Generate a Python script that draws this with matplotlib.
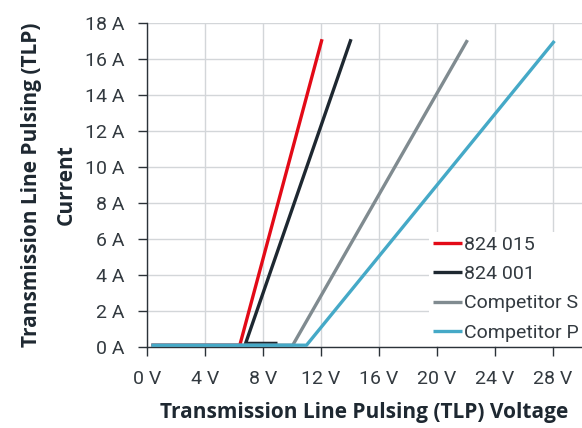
import matplotlib
matplotlib.use("Agg")
import matplotlib.pyplot as plt

# Data (voltage in V, current in A)
red_v = [0.3, 6.4, 12.07]
red_i = [0.1, 0.1, 17.1]
black_v = [9.0, 6.8, 14.07]
black_i = [0.2, 0.2, 17.1]
gray_v = [0.3, 10.05, 22.1]
gray_i = [0.1, 0.1, 17.05]
blue_v = [0.3, 11.0, 28.1]
blue_i = [0.1, 0.1, 17.0]

labels = ["824 015", "824 001", "Competitor S", "Competitor P"]
colors = ["#e30a17", "#1e2831", "#808b90", "#45a9c7"]

x_ticks = [0, 4, 8, 12, 16, 20, 24, 28]
y_ticks = [0, 2, 4, 6, 8, 10, 12, 14, 16, 18]

plt.rcParams['font.family'] = ['Roboto', 'DejaVu Sans']

fig = plt.figure(figsize=(5.82, 4.28), dpi=100)
ax = fig.add_axes([147/582, 81/428, 435/582, 324/428])

series = [(red_v, red_i), (black_v, black_i), (gray_v, gray_i), (blue_v, blue_i)]
for (v, i), lab, c in zip(series, labels, colors):
    ax.plot(v, i, color=c, lw=2.4, label=lab, solid_capstyle='butt', zorder=3)

ax.set_xlim(0, 30)
ax.set_ylim(0, 18)
ax.set_xticks(x_ticks)
ax.set_xticklabels([f"{t} V" for t in x_ticks])
ax.set_yticks(y_ticks)
ax.set_yticklabels([f"{t} A" for t in y_ticks])

ax.grid(True, color="#d3d6d9", lw=1.0, zorder=0)
ax.set_axisbelow(True)
for s in ["top", "right"]:
    ax.spines[s].set_visible(False)
for s in ["left", "bottom"]:
    ax.spines[s].set_color("#2b3238")
    ax.spines[s].set_linewidth(1.0)
ax.tick_params(axis='both', colors="#2b3238", labelcolor="#333a40", labelsize=14,
               length=6.5, width=1.0, pad=10)

lab_font = ['Open Sans', 'DejaVu Sans']
ax.set_xlabel("Transmission Line Pulsing (TLP) Voltage", fontsize=15, family=lab_font,
              fontweight='bold', color="#1e2831", labelpad=10)
ax.set_ylabel("Transmission Line Pulsing (TLP)\nCurrent", fontsize=15, family=lab_font,
              fontweight='bold', color="#1e2831", labelpad=6, linespacing=1.8)

leg = ax.legend(loc='upper left', bbox_to_anchor=(282/435, (347-232)/324),
                frameon=True, fontsize=14, handlelength=1.5, handletextpad=0.12,
                labelspacing=0.58, borderpad=0.2, borderaxespad=0)
leg.get_frame().set_edgecolor('none')
leg.get_frame().set_facecolor('white')
leg.get_frame().set_alpha(1)
for t in leg.get_texts():
    t.set_color("#333a40")

fig.savefig("out.png", dpi=100)
